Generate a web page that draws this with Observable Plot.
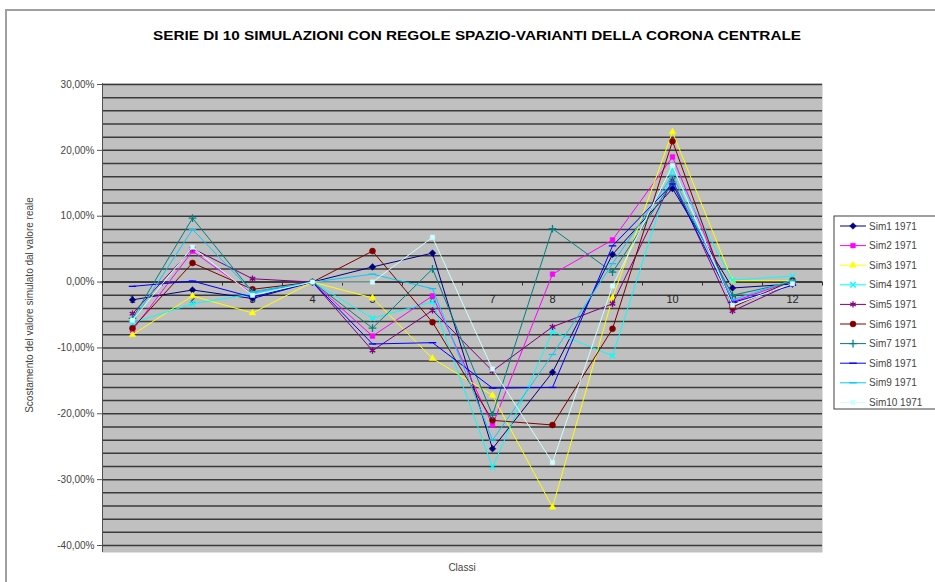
<!DOCTYPE html>
<html>
<head>
<meta charset="utf-8">
<script src="https://cdn.jsdelivr.net/npm/d3@7"></script>
<script src="https://cdn.jsdelivr.net/npm/@observablehq/plot@0.6"></script>
<style>
  html, body { margin: 0; padding: 0; background: #ffffff; }
  #chart { width: 935px; height: 582px; position: relative; overflow: hidden; }
  svg { font-family: "Liberation Sans", Arial, sans-serif; }
</style>
</head>
<body>
<div id="chart"></div>
<script>
// ---- data ----
const classes = [1, 2, 3, 4, 5, 6, 7, 8, 9, 10, 11, 12];
const seriesNames = ["Sim1 1971", "Sim2 1971", "Sim3 1971", "Sim4 1971", "Sim5 1971",
                     "Sim6 1971", "Sim7 1971", "Sim8 1971", "Sim9 1971", "Sim10 1971"];
const sim1  = [-2.7, -1.2, -2.5, 0, 2.3, 4.4, -25.3, -13.7, 4.2, 14.2, -0.9, -0.3];
const sim2  = [-7.3, 4.7, -1.8, 0, -8.2, -2.1, -21.7, 1.2, 6.4, 19.0, -3.0, 0.2];
const sim3  = [-8.0, -2.1, -4.7, 0, -2.4, -11.6, -17.2, -34.2, -2.4, 22.8, 0.2, 0.2];
const sim4  = [-6.2, -3.3, -1.8, 0, -5.5, -3.0, -28.1, -7.5, -11.2, 17.2, 0.3, 0.9];
const sim5  = [-4.8, 5.1, 0.5, 0, -10.4, -4.3, -13.5, -6.8, -3.3, 15.5, -4.4, -0.2];
const sim6  = [-7.0, 2.9, -1.1, 0, 4.7, -6.1, -21.0, -21.7, -7.1, 21.4, -3.8, 0.25];
const sim7  = [-5.5, 9.7, -1.5, 0, -7.0, 2.0, -20.2, 8.1, 1.5, 15.2, -2.0, 0.0];
const sim8  = [-0.65, 0.15, -2.3, 0, -9.4, -9.2, -16.1, -16.0, 5.5, 14.9, -3.1, -0.5];
const sim9  = [-6.0, 8.0, -1.5, 0, 1.2, -1.0, -24.0, -11.0, 2.8, 16.2, -2.7, 0.3];
const sim10 = [-5.8, 5.3, -2.0, 0, 0.0, 6.8, -13.2, -27.4, -0.6, 17.7, -3.5, -0.25];
const yTicks = [-40, -30, -20, -10, 0, 10, 20, 30];
const title = "SERIE DI 10 SIMULAZIONI CON REGOLE SPAZIO-VARIANTI DELLA CORONA CENTRALE";
const yTitle = "Scostamento del valore simulato dal valore reale";
const xTitle = "Classi";

// ---- styles ----
const colors = ["#000080", "#FF00FF", "#FFFF00", "#00FFFF", "#800080",
                "#800000", "#008080", "#0000FF", "#00CCFF", "#CCFFFF"];
const dash = { draw(ctx, size) { const r = Math.sqrt(size) * 0.7; ctx.moveTo(-r, 0); ctx.lineTo(r, 0); } };
const symbolTypes = { diamond2: d3.symbolDiamond2, square2: d3.symbolSquare2, triangle2: d3.symbolTriangle2,
  times: d3.symbolTimes, asterisk: d3.symbolAsterisk, circle: d3.symbolCircle, plus: d3.symbolPlus };
const markers = [
  { symbol: "diamond2", filled: true, r: 3 },
  { symbol: "square2", filled: true, r: 3 },
  { symbol: "triangle2", filled: true, r: 3.2 },
  { symbol: "times", filled: false, r: 2.6 },
  { symbol: "asterisk", filled: false, r: 3 },
  { symbol: "circle", filled: true, r: 3 },
  { symbol: "plus", filled: false, r: 2.6 },
  { symbol: dash, filled: false, r: 3 },
  { symbol: dash, filled: false, r: 3 },
  { symbol: "square2", filled: true, r: 2.8 }
];

const allSeries = [sim1, sim2, sim3, sim4, sim5, sim6, sim7, sim8, sim9, sim10];
const rows = [];
allSeries.forEach((vals, i) => vals.forEach((v, j) => rows.push({ series: seriesNames[i], idx: i, cls: classes[j], value: v })));

const fmt = d => d.toFixed(2).replace(".", ",") + "%";
const grid = d3.range(-40, 30.001, 2);
const boundaries = d3.range(0.5, 12.6, 1);

const seriesMarks = [];
seriesNames.forEach((name, i) => {
  const data = rows.filter(r => r.idx === i);
  seriesMarks.push(Plot.line(data, { x: "cls", y: "value", stroke: colors[i], strokeWidth: 1 }));
  const m = markers[i];
  seriesMarks.push(Plot.dot(data, {
    x: "cls", y: "value", symbol: m.symbol, r: m.r,
    fill: m.filled ? colors[i] : "none",
    stroke: colors[i], strokeWidth: m.filled ? 0.5 : 1.3
  }));
});

const svg = Plot.plot({
  width: 935, height: 582,
  marginLeft: 102, marginRight: 113, marginTop: 83, marginBottom: 30,
  x: { domain: [0.5, 12.5], axis: null },
  y: { domain: [-40, 30], range: [545, 84], axis: null },
  style: { fontFamily: "Liberation Sans, Arial, sans-serif", background: "transparent" },
  marks: [
    Plot.frame({ fill: "#c0c0c0", stroke: "none" }),
    Plot.ruleY(grid, { stroke: "#3a3a3a", strokeWidth: 1.5 }),
    Plot.ruleX([0.5], { stroke: "#505050", strokeWidth: 1 }),
    Plot.axisY({ ticks: yTicks, tickFormat: fmt, tickSize: 5, tickPadding: 3, fontSize: 10, fill: "#444", stroke: "#555", label: null }),
    Plot.ruleY([0], { stroke: "#303030", strokeWidth: 1.5 }),
    Plot.ruleX(boundaries, { y1: 0, y2: -0.6, stroke: "#303030" }),
    Plot.text(classes, { x: d => d, y: () => 0, dy: 17, text: d => String(d), fontSize: 11, fill: "#222" }),
    ...seriesMarks
  ]
});

const root = d3.select(svg);
// chart area border
root.insert("rect", ":first-child")
  .attr("x", 6).attr("y", 10).attr("width", 940).attr("height", 580)
  .attr("fill", "#fff").attr("stroke", "#a0a0a0").attr("stroke-width", 2);

// title
root.append("text").attr("x", 477).attr("y", 40).attr("text-anchor", "middle")
  .attr("font-size", 12.5).attr("font-weight", "bold").attr("fill", "#000")
  .attr("textLength", 648).attr("lengthAdjust", "spacingAndGlyphs")
  .text(title);

// axis titles
root.append("text").attr("transform", "translate(33,305) rotate(-90)").attr("text-anchor", "middle")
  .attr("font-size", 10).attr("fill", "#444").text(yTitle);
root.append("text").attr("x", 462).attr("y", 571).attr("text-anchor", "middle")
  .attr("font-size", 10).attr("fill", "#444").text(xTitle);

// legend
const lg = root.append("g").attr("text-anchor", "start");
lg.append("rect").attr("x", 834).attr("y", 216).attr("width", 110).attr("height", 193)
  .attr("fill", "#fff").attr("stroke", "#404040").attr("stroke-width", 1);
seriesNames.forEach((name, i) => {
  const y = 226 + i * 19.6;
  lg.append("line").attr("x1", 840).attr("x2", 866).attr("y1", y).attr("y2", y)
    .attr("stroke", colors[i]).attr("stroke-width", 1);
  const m = markers[i];
  const symType = m.symbol === dash ? dash : symbolTypes[m.symbol];
  lg.append("path").attr("transform", `translate(853,${y})`)
    .attr("d", d3.symbol(symType, Math.PI * m.r * m.r)())
    .attr("fill", m.filled ? colors[i] : "none").attr("stroke", colors[i])
    .attr("stroke-width", m.filled ? 0.5 : 1.3);
  lg.append("text").attr("x", 869).attr("y", y + 3.5).attr("text-anchor", "start")
    .attr("font-size", 10).attr("fill", "#444").text(name);
});

document.getElementById("chart").appendChild(svg);
</script>
</body>
</html>
